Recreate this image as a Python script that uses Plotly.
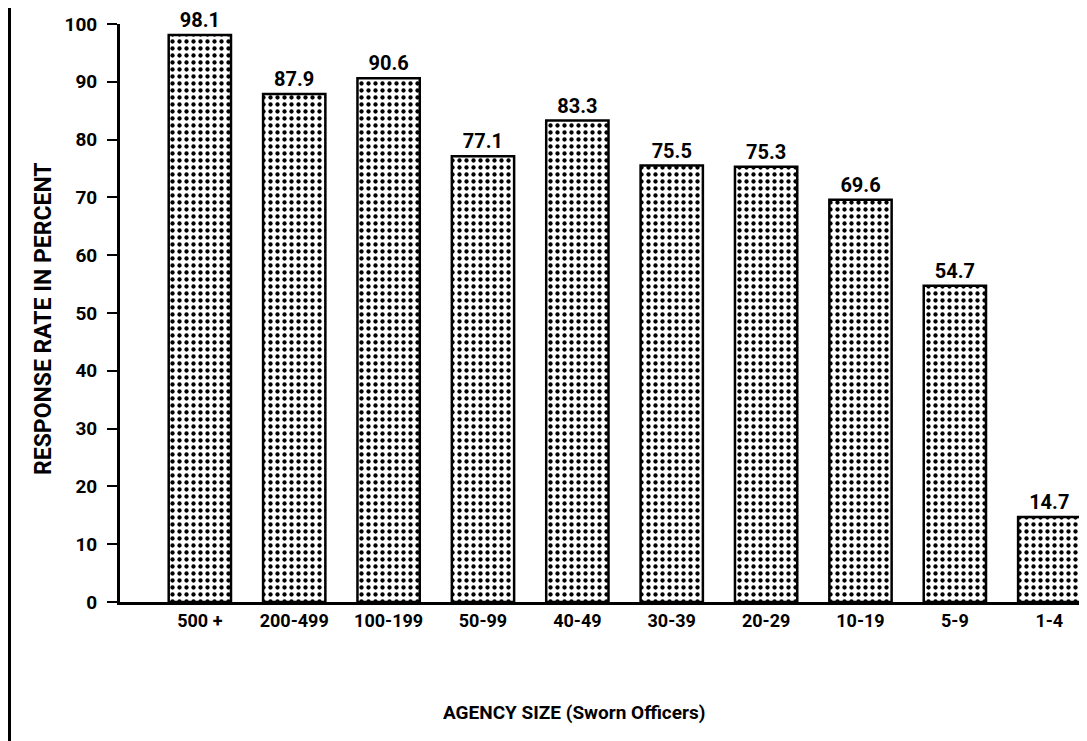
import plotly.graph_objects as go

categories = ["500 +", "200-499", "100-199", "50-99", "40-49", "30-39", "20-29", "10-19", "5-9", "1-4"]
values = [98.1, 87.9, 90.6, 77.1, 83.3, 75.5, 75.3, 69.6, 54.7, 14.7]
value_labels = ["98.1", "87.9", "90.6", "77.1", "83.3", "75.5", "75.3", "69.6", "54.7", "14.7"]
y_ticks = [0, 10, 20, 30, 40, 50, 60, 70, 80, 90, 100]

FONT = "Roboto, Liberation Sans, sans-serif"

# page has an 8px body margin; figure is sized so the plot lands where the reference's does
W, H = 1079, 733
L, T, B = 112, 16, 139
PW = W - L
PH = H - T - B

fig = go.Figure(go.Bar(
    x=categories,
    y=values,
    width=0.66,
    text=value_labels,
    textposition="outside",
    cliponaxis=False,
    textfont=dict(family=FONT, size=20, color="black", weight="bold"),
    marker=dict(
        color="white",
        line=dict(color="black", width=2.5),
        pattern=dict(shape=".", fgcolor="black", bgcolor="white", size=7, solidity=0.3, fillmode="replace"),
    ),
))

fig.update_layout(
    width=W, height=H,
    margin=dict(l=L, r=0, t=T, b=B),
    paper_bgcolor="white", plot_bgcolor="white",
    showlegend=False,
    font=dict(family=FONT, color="black", size=16),
    xaxis=dict(
        type="category",
        range=[-0.846, 9.4],
        showline=True, linecolor="black", linewidth=3,
        ticks="", showgrid=False,
        tickfont=dict(family=FONT, size=18, color="black", weight="bold"),
    ),
    yaxis=dict(
        range=[0, 100],
        tickvals=y_ticks,
        showline=True, linecolor="black", linewidth=3,
        ticks="outside", ticklen=10, tickwidth=2, tickcolor="black",
        ticklabelstandoff=6,
        showgrid=False, zeroline=False,
        tickfont=dict(family=FONT, size=19, color="black", weight="bold"),
    ),
    annotations=[
        dict(text="RESPONSE RATE IN PERCENT", xref="paper", yref="paper",
             x=(36 - L) / PW, y=(594 - 311) / PH, textangle=-90, showarrow=False,
             xanchor="center", yanchor="middle",
             font=dict(family=FONT, size=23, color="black", weight="bold")),
        dict(text="AGENCY SIZE (Sworn Officers)", xref="paper", yref="paper",
             x=(566 - L) / PW, y=(594 - 704) / PH, showarrow=False,
             xanchor="center", yanchor="middle",
             font=dict(family=FONT, size=19, color="black", weight="bold")),
    ],
    shapes=[
        dict(type="line", xref="paper", yref="paper",
             x0=(1.5 - L) / PW, x1=(1.5 - L) / PW, y0=-B / PH, y1=(PH + T) / PH,
             line=dict(color="black", width=3)),
    ],
)

fig.write_html("out.html")
